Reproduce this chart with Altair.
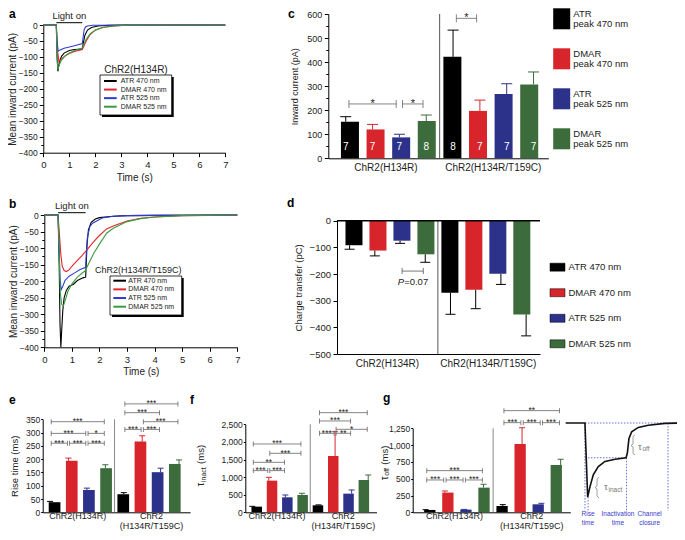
import altair as alt
import pandas as pd

# ------------------------------------------------------------------ data
SERIES = ["ATR 470 nm", "DMAR 470 nm", "ATR 525 nm", "DMAR 525 nm"]
GROUPS = ["ChR2(H134R)", "ChR2(H134R/T159C)"]
GROUPS_2L = ["ChR2(H134R)", "ChR2\n(H134R/T159C)"]
LEG_C_TOP = ["ATR", "DMAR", "ATR", "DMAR"]
LEG_C_BOT = ["peak 470 nm", "peak 470 nm", "peak 525 nm", "peak 525 nm"]
LINE_COLORS = ["#000000", "#e3262b", "#2b3ccf", "#3c9b41"]
BAR_COLORS = ["#000000", "#d8252b", "#2c318a", "#3c6b3c"]

LIGHT_ON = [0.5, 1.5]
TIME_TICKS = [0, 1, 2, 3, 4, 5, 6, 7]
TRACE_TICKS = [-400, -350, -300, -250, -200, -150, -100, -50, 0]
TRACE_MINOR = [-375, -325, -275, -225, -175, -125, -75, -25]

# panel a: ChR2(H134R) mean traces (time s, current pA)
A_TIME = [
    [0, 0.5, 0.53, 0.56, 0.62, 0.7, 0.8, 1.0, 1.2, 1.5, 1.53, 1.6, 1.7, 1.85, 2.1, 2.5, 3.0, 7.0],
    [0, 0.5, 0.55, 0.6, 0.7, 0.85, 1.0, 1.2, 1.5, 1.55, 1.65, 1.8, 2.0, 2.3, 2.7, 3.2, 7.0],
    [0, 0.5, 0.53, 0.57, 0.65, 0.8, 1.0, 1.2, 1.5, 1.53, 1.57, 1.62, 1.7, 1.9, 7.0],
    [0, 0.5, 0.53, 0.56, 0.62, 0.7, 0.85, 1.0, 1.2, 1.5, 1.55, 1.65, 1.8, 2.0, 2.3, 2.7, 3.2, 7.0],
]
A_CURR = [
    [0, 0, -100, -145, -115, -98, -88, -80, -77, -75, -60, -32, -16, -8, -3, -1, 0, 0],
    [0, 0, -80, -115, -106, -96, -89, -83, -77, -68, -50, -30, -16, -7, -3, -1, 0],
    [0, 0, -50, -82, -78, -73, -69, -65, -58, -40, -15, -6, -3, -1, 0],
    [0, 0, -100, -140, -124, -110, -96, -88, -80, -72, -62, -45, -28, -16, -8, -3, -1, 0],
]
# panel b: ChR2(H134R/T159C)
B_TIME = [
    [0, 0.5, 0.54, 0.57, 0.6, 0.63, 0.67, 0.72, 0.8, 0.9, 1.05, 1.2, 1.4, 1.5, 1.52, 1.55, 1.6, 1.7, 1.85, 2.0, 2.5, 3.0, 4.0, 7.0],
    [0, 0.5, 0.55, 0.6, 0.65, 0.72, 0.8, 0.9, 1.0, 1.1, 1.2, 1.35, 1.5, 1.65, 1.8, 2.0, 2.26, 2.5, 3.0, 3.5, 4.0, 5.0, 6.0, 7.0],
    [0, 0.5, 0.53, 0.57, 0.61, 0.66, 0.75, 0.9, 1.1, 1.3, 1.5, 1.52, 1.56, 1.65, 1.75, 1.9, 2.1, 2.5, 3.0, 4.0, 7.0],
    [0, 0.5, 0.54, 0.58, 0.63, 0.69, 0.76, 0.85, 1.0, 1.2, 1.4, 1.5, 1.53, 1.65, 1.8, 2.0, 2.26, 2.5, 3.0, 3.5, 4.0, 5.0, 7.0],
]
B_CURR = [
    [0, 0, -150, -330, -400, -350, -290, -250, -228, -215, -210, -198, -190, -188, -150, -90, -45, -22, -12, -8, -4, -2, -1, 0],
    [0, 0, -60, -120, -155, -168, -171, -166, -155, -146, -137, -124, -110, -95, -80, -62, -42, -33, -18, -10, -6, -2, -1, 0],
    [0, 0, -80, -190, -226, -218, -198, -185, -175, -165, -158, -120, -70, -35, -25, -18, -9, -4, -2, -1, 0],
    [0, 0, -120, -235, -270, -275, -258, -232, -208, -188, -174, -168, -161, -140, -115, -88, -55, -40, -20, -11, -6, -2, 0],
]

# bar panels: [group][series]
C_MEAN = [[152, 120, 87, 155], [422, 197, 267, 307]]
C_ERR = [[21, 21, 13, 25], [111, 45, 43, 52]]
C_N = [[7, 7, 7, 8], [8, 7, 7, 7]]
C_TICKS = [0, 100, 200, 300, 400, 500, 600]
C_MINOR = [50, 150, 250, 350, 450, 550]
C_SIG = [(0, 2, 226, "*"), (2, 3, 226, "*"), (4, 5, 582, "*")]

D_MEAN = [[-92, -112, -75, -126], [-270, -259, -199, -352]]
D_ERR = [[15, 20, 10, 30], [81, 71, 40, 80]]
D_TICKS = [-500, -400, -300, -200, -100, 0]
D_SIG = [(2, 3, -189)]
D_P_LABEL = ["P", "=0.07"]

E_MEAN = [[38, 194, 84, 166], [68, 266, 151, 182]]
E_ERR = [[3, 10, 7, 13], [6, 22, 15, 15]]
E_TICKS = [0, 50, 100, 150, 200, 250, 300, 350]
E_SIG = [(0, 1, 260, "***"), (1, 2, 260, "***"), (2, 3, 260, "***"), (0, 2, 297, "***"),
         (2, 3, 297, "*"), (0, 3, 341, "***"), (4, 5, 312, "***"), (5, 6, 312, "***"),
         (5, 7, 341, "***"), (4, 6, 375, "***"), (4, 7, 408, "***")]

F_MEAN = [[160, 900, 426, 492], [199, 1600, 530, 918]]
F_ERR = [[10, 94, 66, 48], [12, 690, 104, 142]]
F_TICKS = [0, 500, 1000, 1500, 2000, 2500]
F_SIG = [(0, 1, 1184, "***"), (1, 2, 1184, "***"), (0, 2, 1420, "**"), (1, 3, 1676, "***"),
         (0, 3, 1941, "***"), (4, 5, 2244, "***"), (5, 6, 2244, "**"), (5, 7, 2358, "*"),
         (4, 6, 2595, "***"), (4, 7, 2831, "***")]

G_MEAN = [[35, 293, 40, 367], [94, 1017, 119, 704]]
G_ERR = [[4, 24, 3, 50], [20, 243, 15, 85]]
G_TICKS = [0, 250, 500, 750, 1000, 1250]
G_SIG = [(0, 1, 481, "***"), (1, 2, 481, "***"), (2, 3, 481, "***"), (0, 3, 620, "***"),
         (4, 5, 1334, "***"), (5, 6, 1334, "***"), (6, 7, 1334, "***"), (4, 7, 1513, "**")]

# schematic photocurrent (arbitrary time 0-100, normalised current)
SCHEM_T = [-2, 14.5, 16.8, 18.8, 21.6, 25.9, 31.6, 40.2, 49.6, 50.7, 52.1, 54.4, 60.1, 68.6, 82.9, 100]
SCHEM_I = [0, 0, -1.0, -0.86, -0.70, -0.59, -0.52, -0.49, -0.47, -0.41, -0.21, -0.12, -0.06, -0.03, -0.005, 0]
SCHEM_V_T = [14.5, 17.2, 50.0, 85.5]
SCHEM_V_TOP = [0, -1.0, -0.47, 0]
SCHEM_V_BOTTOM = -1.18
SCHEM_H = [(14.5, 100, 0), (14.5, 50.0, -0.47)]
SCHEM_LABELS = ["Rise\ntime", "Inactivation\ntime", "Channel\nclosure"]
SCHEM_LABEL_T = [17.1, 42.7, 69.8]
BRACE1_T = [26.5, 24.8, 24.8, 23.1, 24.8, 24.8, 26.5]
BRACE1_I = [-0.73, -0.757, -0.851, -0.872, -0.892, -0.986, -1.014]
BRACE2_T = [57.3, 55.6, 55.6, 53.8, 55.6, 55.6, 57.3]
BRACE2_I = [-0.162, -0.182, -0.284, -0.304, -0.324, -0.412, -0.432]

# ------------------------------------------------------------------ layout helpers
W, H = 669, 524
FONT = "Liberation Sans"
INK = "#222222"
ONE = pd.DataFrame({"k": [0]})


def P(v):
    return v - 8


def lin(lo_px, hi_px, dom):
    return alt.Scale(domain=dom, range=[P(lo_px), P(hi_px)], nice=False, zero=False)


def axis(orient, pos, values=None, title=None, fmt=None, labels=True, domain=True,
         lsize=9, tsize=10, tick=4, lpad=2, tpad=4):
    d = dict(orient=orient, grid=False, domainColor="#000", tickColor="#000",
             domainWidth=1, tickWidth=1, labelFont=FONT, labelFontSize=lsize,
             labelColor=INK, labelPadding=lpad, labels=labels, domain=domain,
             tickSize=tick, ticks=tick > 0, labelFlush=False, labelOverlap=False)
    d["offset"] = -P(pos) if orient == "left" else P(pos) - H
    if values is not None:
        d["values"] = values
    if fmt:
        d["format"] = fmt
    if title:
        d.update(title=title, titleFont=FONT, titleFontSize=tsize, titleFontWeight="normal",
                 titleColor=INK, titlePadding=tpad)
    else:
        d["title"] = None
    return alt.Axis(**d)


def axes_layer(xs, ys, xax, yax, x0, y0):
    return alt.Chart(ONE).mark_point(opacity=0).encode(
        x=alt.X(datum=x0, type="quantitative", scale=xs, axis=xax),
        y=alt.Y(datum=y0, type="quantitative", scale=ys, axis=yax))


def txt(x, y, s, size=9, **kw):
    kw.setdefault("font", FONT)
    kw.setdefault("color", INK)
    return alt.Chart(ONE).mark_text(text=s, fontSize=size, **kw).encode(
        x=alt.value(P(x)), y=alt.value(P(y)))


def box(x0, y0, x1, y1, **kw):
    return alt.Chart(ONE).mark_rect(**kw).encode(
        x=alt.value(P(x0)), x2=alt.value(P(x1)), y=alt.value(P(y0)), y2=alt.value(P(y1)))


def trace_layers(times, currs, xs, ys):
    rows = []
    for s, ts, cs in zip(SERIES, times, currs):
        for k, (t, c) in enumerate(zip(ts, cs)):
            rows.append({"series": s, "t": t, "i": c, "o": k})
    d = pd.DataFrame(rows)
    out = []
    for s, col in zip(SERIES, LINE_COLORS):
        out.append(alt.Chart(d).transform_filter(alt.datum.series == s)
                   .mark_line(strokeWidth=1.1, color=col)
                   .encode(x=alt.X("t:Q", scale=xs, axis=None),
                           y=alt.Y("i:Q", scale=ys, axis=None), order="o:Q"))
    return out


def light_layers(xs, y_bar, y_text):
    d = pd.DataFrame({"t0": [LIGHT_ON[0]], "t1": [LIGHT_ON[1]],
                      "mid": [(LIGHT_ON[0] + LIGHT_ON[1]) / 2]})
    return [
        alt.Chart(d).mark_rule(color="#000", strokeWidth=1).encode(
            x=alt.X("t0:Q", scale=xs, axis=None), x2="t1:Q", y=alt.value(P(y_bar))),
        alt.Chart(d).mark_text(text="Light on", font=FONT, fontSize=9.5, color=INK,
                               baseline="middle").encode(
            x=alt.X("mid:Q", scale=xs, axis=None), y=alt.value(P(y_text))),
    ]


def trace_legend(title, tsize, title_xy, frame, rows_y, line_x, text_x, fsize):
    d = pd.DataFrame({"series": SERIES})
    rs = alt.Scale(type="point", domain=SERIES, range=[P(rows_y[0]), P(rows_y[1])], padding=0)
    col = alt.Color("series:N", scale=alt.Scale(domain=SERIES, range=LINE_COLORS), legend=None)
    return [
        box(frame[0] + 2, frame[1] + 2, frame[2] + 2, frame[3] + 2, color="#000"),
        box(*frame, fill="white", stroke="#000", strokeWidth=0.8),
        alt.Chart(d).mark_rule(strokeWidth=2).encode(
            x=alt.value(P(line_x[0])), x2=alt.value(P(line_x[1])),
            y=alt.Y("series:N", scale=rs, axis=None), color=col),
        alt.Chart(d).mark_text(align="left", baseline="middle", font=FONT, fontSize=fsize,
                               color=INK).encode(
            x=alt.value(P(text_x)), y=alt.Y("series:N", scale=rs, axis=None), text="series:N"),
        txt(title_xy[0], title_xy[1], title, size=tsize, baseline="middle"),
    ]


def bar_df(means, errs, counts=None):
    rows = []
    for g in range(2):
        for s in range(4):
            m, e = means[g][s], errs[g][s]
            rows.append({"series": SERIES[s], "slot": g * 4 + s, "mean": m,
                         "end": m + e if m >= 0 else m - e,
                         "n": str(counts[g][s]) if counts else ""})
    return pd.DataFrame(rows)


def bar_layers(means, errs, xs, ys, bar_w, cap_w, err_black=False, counts=None, n_y=None):
    d = bar_df(means, errs, counts)
    base = alt.Chart(d)
    xe = alt.X("slot:Q", scale=xs, axis=None)
    col = alt.Color("series:N", scale=alt.Scale(domain=SERIES, range=BAR_COLORS), legend=None)
    ecol = alt.value("#000") if err_black else col
    out = [
        base.mark_bar(size=bar_w, opacity=1).encode(
            x=xe, y=alt.Y("mean:Q", scale=ys, axis=None), y2=alt.datum(0), color=col),
        base.mark_rule(strokeWidth=1).encode(
            x=xe, y=alt.Y("mean:Q", scale=ys, axis=None), y2="end:Q", color=ecol),
        base.mark_tick(orient="horizontal", size=cap_w, thickness=1, opacity=1).encode(
            x=xe, y=alt.Y("end:Q", scale=ys, axis=None), color=ecol),
    ]
    if counts:
        out.append(base.mark_text(color="white", font=FONT, fontSize=10, baseline="middle").encode(
            x=xe, y=alt.value(P(n_y)), text="n:N"))
    return out


def sig_layers(sig, xs, ys, end_h, fsize, dy, inset, color="#666"):
    d = pd.DataFrame([{"a": a + inset, "b": b - inset, "m": (a + b) / 2, "y": y, "lab": lab}
                      for a, b, y, lab in sig])
    base = alt.Chart(d)
    yy = alt.Y("y:Q", scale=ys, axis=None)
    return [
        base.mark_rule(color=color, strokeWidth=0.8).encode(
            x=alt.X("a:Q", scale=xs, axis=None), x2="b:Q", y=yy),
        base.transform_fold(["a", "b"], as_=["end", "xe"]).mark_tick(
            orient="vertical", size=end_h, thickness=0.8, color=color, opacity=1).encode(
            x=alt.X("xe:Q", scale=xs, axis=None), y=yy),
        base.mark_text(fontSize=fsize, dy=dy, baseline="alphabetic", font=FONT, color=INK).encode(
            x=alt.X("m:Q", scale=xs, axis=None), y=yy, text="lab:N"),
    ]


def divider(xs, ys, lo, hi, color="#555"):
    return alt.Chart(ONE).mark_rule(color=color, strokeWidth=1).encode(
        x=alt.X(datum=3.5, type="quantitative", scale=xs, axis=None),
        y=alt.Y(datum=lo, type="quantitative", scale=ys, axis=None), y2=alt.datum(hi))


def group_labels(labels, xs, y_px, size, baseline="middle", line_h=11):
    d = pd.DataFrame({"g": labels, "slot": [1.5, 5.5]})
    return alt.Chart(d).mark_text(font=FONT, fontSize=size, color=INK, baseline=baseline,
                                  lineBreak="\n", lineHeight=line_h).encode(
        x=alt.X("slot:Q", scale=xs, axis=None), y=alt.value(P(y_px)), text="g:N")


layers = []

# ------------------------------------------------------------------ panel a
sa_x, sa_y = lin(43.3, 225.3, [0, 7]), lin(152.7, 25, [-400, 0])
layers.append(axes_layer(sa_x, sa_y,
                         axis("bottom", 152.7, TIME_TICKS, "Time (s)", lsize=9.5, lpad=3, tpad=3),
                         axis("left", 43.3, TRACE_TICKS, "Mean inward current (pA)", lsize=8.5, tpad=1), 0, 0))
layers.append(axes_layer(sa_x, sa_y, None,
                         axis("left", 43.3, TRACE_MINOR, labels=False, domain=False, tick=2.5), 0, 0))
layers += trace_layers(A_TIME, A_CURR, sa_x, sa_y)
layers += light_layers(sa_x, 22.7, 16.3)
layers += trace_legend("ChR2(H134R)", 10, (136, 69.5), (100, 75, 171.7, 115),
                       (81, 106.7), (104, 116.7), 120.7, 7)

# ------------------------------------------------------------------ panel b
sb_x, sb_y = lin(44.3, 237.3, [0, 7]), lin(347.3, 215, [-400, 0])
layers.append(axes_layer(sb_x, sb_y,
                         axis("bottom", 347.3, TIME_TICKS, "Time (s)", lsize=9.5, lpad=3, tpad=3),
                         axis("left", 44.3, TRACE_TICKS, "Mean inward current (pA)", lsize=8.5, tpad=1), 0, 0))
layers.append(axes_layer(sb_x, sb_y, None,
                         axis("left", 44.3, TRACE_MINOR, labels=False, domain=False, tick=2.5), 0, 0))
layers += trace_layers(B_TIME, B_CURR, sb_x, sb_y)
layers += light_layers(sb_x, 212.7, 206)
layers += trace_legend("ChR2(H134R/T159C)", 9, (138.3, 270), (110, 276, 181.7, 315),
                       (280.7, 306.7), (113.3, 126), 128.3, 7)

# ------------------------------------------------------------------ panel c
sc_x, sc_y = lin(328.3, 548.3, [-0.65, 7.55]), lin(158.3, 14, [0, 600])
layers.append(axes_layer(sc_x, sc_y,
                         axis("bottom", 158.3, labels=False, tick=0),
                         axis("left", 328.3, C_TICKS, "Inward current (pA)", lsize=9, tsize=9, lpad=2.5, tpad=7), 0, 0))
layers.append(axes_layer(sc_x, sc_y, None,
                         axis("left", 328.3, C_MINOR, labels=False, domain=False, tick=2.5), 0, 0))
layers.append(divider(sc_x, sc_y, 0, 600))
layers += bar_layers(C_MEAN, C_ERR, sc_x, sc_y, 18, 11, counts=C_N, n_y=147)
layers += sig_layers(C_SIG, sc_x, sc_y, 8, 11, 3, 0.12)
layers.append(group_labels(GROUPS, sc_x, 167.5, 10))
cl = pd.DataFrame({"series": SERIES, "top": LEG_C_TOP, "bot": LEG_C_BOT})
c_rows = alt.Scale(type="point", domain=SERIES, range=[P(18.8), P(138.8)], padding=0)
c_col = alt.Color("series:N", scale=alt.Scale(domain=SERIES, range=BAR_COLORS), legend=None)
layers.append(alt.Chart(cl).mark_tick(orient="horizontal", size=17, thickness=21, opacity=1).encode(
    x=alt.value(P(561.7)), y=alt.Y("series:N", scale=c_rows, axis=None), color=c_col))
layers.append(alt.Chart(cl).mark_text(align="left", baseline="middle", font=FONT, fontSize=9.5,
                                      color=INK, dy=-5.3).encode(
    x=alt.value(P(573.3)), y=alt.Y("series:N", scale=c_rows, axis=None), text="top:N"))
layers.append(alt.Chart(cl).mark_text(align="left", baseline="middle", font=FONT, fontSize=9.5,
                                      color=INK, dy=5.2).encode(
    x=alt.value(P(573.3)), y=alt.Y("series:N", scale=c_rows, axis=None), text="bot:N"))

# ------------------------------------------------------------------ panel d
sd_x, sd_y = lin(337, 540, [-0.5, 7.55]), lin(354, 220.7, [-500, 0])
layers.append(axes_layer(sd_x, sd_y,
                         axis("bottom", 354, labels=False, tick=0),
                         axis("left", 337, D_TICKS, "Charge transfer (pC)", lsize=9.5, tsize=9.5, lpad=2.5, tpad=6), 0, -500))
layers.append(divider(sd_x, sd_y, -500, 0))
layers += bar_layers(D_MEAN, D_ERR, sd_x, sd_y, 17, 10, err_black=True)
layers.append(alt.Chart(ONE).mark_rule(color="#000", strokeWidth=1.5).encode(
    x=alt.value(P(337)), x2=alt.value(P(540)),
    y=alt.Y(datum=0, type="quantitative", scale=sd_y, axis=None)))
dsig = pd.DataFrame({"a": [D_SIG[0][0] + 0.08], "b": [D_SIG[0][1] - 0.08],
                     "m": [(D_SIG[0][0] + D_SIG[0][1]) / 2], "y": [D_SIG[0][2]]})
layers.append(alt.Chart(dsig).mark_rule(color="#555", strokeWidth=0.8).encode(
    x=alt.X("a:Q", scale=sd_x, axis=None), x2="b:Q", y=alt.Y("y:Q", scale=sd_y, axis=None)))
layers.append(alt.Chart(dsig).transform_fold(["a", "b"], as_=["end", "xe"]).mark_tick(
    orient="vertical", size=6, thickness=0.8, color="#555", opacity=1).encode(
    x=alt.X("xe:Q", scale=sd_x, axis=None), y=alt.Y("y:Q", scale=sd_y, axis=None)))
layers.append(alt.Chart(dsig).mark_text(text=D_P_LABEL[0], font=FONT, fontSize=9.5, fontStyle="italic",
                                        color=INK, align="left", baseline="middle", dx=-15, dy=11).encode(
    x=alt.X("m:Q", scale=sd_x, axis=None), y=alt.Y("y:Q", scale=sd_y, axis=None)))
layers.append(alt.Chart(dsig).mark_text(text=D_P_LABEL[1], font=FONT, fontSize=9.5,
                                        color=INK, align="left", baseline="middle", dx=-8.5, dy=11).encode(
    x=alt.X("m:Q", scale=sd_x, axis=None), y=alt.Y("y:Q", scale=sd_y, axis=None)))
layers.append(group_labels(GROUPS, sd_x, 364, 10))
dl = pd.DataFrame({"series": SERIES})
d_rows = alt.Scale(type="point", domain=SERIES, range=[P(267.2), P(343.8)], padding=0)
layers.append(alt.Chart(dl).mark_tick(orient="horizontal", size=15, thickness=8, opacity=1,
                                      stroke="#000", strokeWidth=0.5).encode(
    x=alt.value(P(557.5)), y=alt.Y("series:N", scale=d_rows, axis=None), color=c_col))
layers.append(alt.Chart(dl).mark_text(align="left", baseline="middle", font=FONT, fontSize=9.5,
                                      color=INK).encode(
    x=alt.value(P(568.5)), y=alt.Y("series:N", scale=d_rows, axis=None), text="series:N"))

# ------------------------------------------------------------------ panels e, f, g
se_x, se_y = lin(42.7, 190.1, [-0.4, 7.6]), lin(512.3, 419.3, [0, 350])
layers.append(axes_layer(se_x, se_y,
                         axis("bottom", 512.3, labels=False, tick=0),
                         axis("left", 42.7, E_TICKS, "Rise time (ms)", lsize=8.5, tsize=9.5, tick=2, lpad=1, tpad=6), 0, 0))
layers.append(divider(se_x, se_y, 0, 350, color="#888"))
layers += bar_layers(E_MEAN, E_ERR, se_x, se_y, 11.7, 6)
layers += sig_layers(E_SIG, se_x, se_y, 5, 8.5, 2.5, 0.06)
layers.append(group_labels(GROUPS_2L, se_x, 511.5, 9, baseline="top", line_h=10))

sf_x, sf_y = lin(245.3, 376.5, [-0.42, 7.5]), lin(512.3, 424.3, [0, 2500])
layers.append(axes_layer(sf_x, sf_y,
                         axis("bottom", 512.3, labels=False, tick=0),
                         axis("left", 245.3, F_TICKS, fmt=",.0f", lsize=8.5, tick=2, lpad=1), 0, 0))
layers.append(divider(sf_x, sf_y, 0, 2500, color="#888"))
layers += bar_layers(F_MEAN, F_ERR, sf_x, sf_y, 10.5, 6)
layers += sig_layers(F_SIG, sf_x, sf_y, 5, 8.5, 2.5, 0.06)
layers.append(group_labels(GROUPS_2L, sf_x, 511.5, 9, baseline="top", line_h=10))
layers.append(txt(201, 484.5, "τ", size=10, angle=270, baseline="middle"))
layers.append(txt(203.5, 474.6, "inact", size=7, angle=270, baseline="middle"))
layers.append(txt(201, 454.4, "(ms)", size=9.5, angle=270, baseline="middle"))

sg_x, sg_y = lin(412.7, 570.3, [-0.67, 7.5]), lin(512.3, 428.3, [0, 1250])
layers.append(axes_layer(sg_x, sg_y,
                         axis("bottom", 512.3, labels=False, tick=0),
                         axis("left", 412.7, G_TICKS, fmt=",.0f", lsize=8.5, tick=2, lpad=1), 0, 0))
layers.append(divider(sg_x, sg_y, 0, 1250, color="#888"))
layers += bar_layers(G_MEAN, G_ERR, sg_x, sg_y, 11.3, 6)
layers += sig_layers(G_SIG, sg_x, sg_y, 5, 8.5, 2.5, 0.06)
layers.append(group_labels(GROUPS_2L, sg_x, 511.5, 9, baseline="top", line_h=10))
layers.append(txt(384.5, 478.3, "τ", size=10, angle=270, baseline="middle"))
layers.append(txt(387, 471.9, "off", size=7, angle=270, baseline="middle"))
layers.append(txt(384.5, 455.2, "(ms)", size=9.5, angle=270, baseline="middle"))

# ------------------------------------------------------------------ schematic
ss_x, ss_y = lin(568, 685, [0, 100]), lin(497, 423, [-1, 0])
BLUE_DOT = "#4a4ad0"
vd = pd.DataFrame({"t": SCHEM_V_T, "top": SCHEM_V_TOP, "bot": [SCHEM_V_BOTTOM] * len(SCHEM_V_T)})
layers.append(alt.Chart(vd).mark_rule(color=BLUE_DOT, strokeWidth=0.8, strokeDash=[1.5, 1.5]).encode(
    x=alt.X("t:Q", scale=ss_x, axis=None), y=alt.Y("top:Q", scale=ss_y, axis=None), y2="bot:Q"))
hd = pd.DataFrame([{"t0": a, "t1": b, "i": c} for a, b, c in SCHEM_H])
layers.append(alt.Chart(hd).mark_rule(color=BLUE_DOT, strokeWidth=0.8, strokeDash=[1.5, 1.5]).encode(
    x=alt.X("t0:Q", scale=ss_x, axis=None), x2="t1:Q", y=alt.Y("i:Q", scale=ss_y, axis=None)))
sd = pd.DataFrame({"t": SCHEM_T, "i": SCHEM_I, "o": list(range(len(SCHEM_T)))})
layers.append(alt.Chart(sd).mark_line(color="#111", strokeWidth=1.6).encode(
    x=alt.X("t:Q", scale=ss_x, axis=None), y=alt.Y("i:Q", scale=ss_y, axis=None), order="o:Q"))
for bt, bi in ((BRACE1_T, BRACE1_I), (BRACE2_T, BRACE2_I)):
    bd = pd.DataFrame({"t": bt, "i": bi, "o": list(range(len(bt)))})
    layers.append(alt.Chart(bd).mark_line(color="#888", strokeWidth=0.8).encode(
        x=alt.X("t:Q", scale=ss_x, axis=None), y=alt.Y("i:Q", scale=ss_y, axis=None), order="o:Q"))
tl = pd.DataFrame({"t": [30.8, 59.8], "i": [-0.865, -0.32], "sub": ["inact", "off"]})
layers.append(alt.Chart(tl).mark_text(text="τ", font=FONT, fontSize=9.5, color="#777",
                                      align="left", baseline="middle").encode(
    x=alt.X("t:Q", scale=ss_x, axis=None), y=alt.Y("i:Q", scale=ss_y, axis=None)))
layers.append(alt.Chart(tl).mark_text(font=FONT, fontSize=6.5, color="#777", align="left",
                                      baseline="middle", dx=4.5, dy=2.5).encode(
    x=alt.X("t:Q", scale=ss_x, axis=None), y=alt.Y("i:Q", scale=ss_y, axis=None), text="sub:N"))
sl = pd.DataFrame({"lab": SCHEM_LABELS, "t": SCHEM_LABEL_T, "i": [-1.19] * 3})
layers.append(alt.Chart(sl).mark_text(font=FONT, fontSize=6.5, color="#3a3ac8", baseline="top",
                                      lineBreak="\n", lineHeight=9).encode(
    x=alt.X("t:Q", scale=ss_x, axis=None), y=alt.Y("i:Q", scale=ss_y, axis=None), text="lab:N"))

# ------------------------------------------------------------------ panel letters
for letter, x, y in [("a", 9, 8.5), ("b", 9, 199), ("c", 288, 8.5), ("d", 287, 198),
                     ("e", 9, 395), ("f", 190, 395), ("g", 383, 393)]:
    layers.append(txt(x, y, letter, size=12, fontWeight="bold", color="#000",
                      align="left", baseline="top"))

chart = alt.layer(*layers).resolve_scale(
    x="independent", y="independent", color="independent"
).properties(
    width=W, height=H, autosize=alt.AutoSizeParams(type="none"), padding=0, background="white"
).configure_view(stroke=None)

chart.save("out.html", embed_options={"renderer": "svg", "actions": False})
